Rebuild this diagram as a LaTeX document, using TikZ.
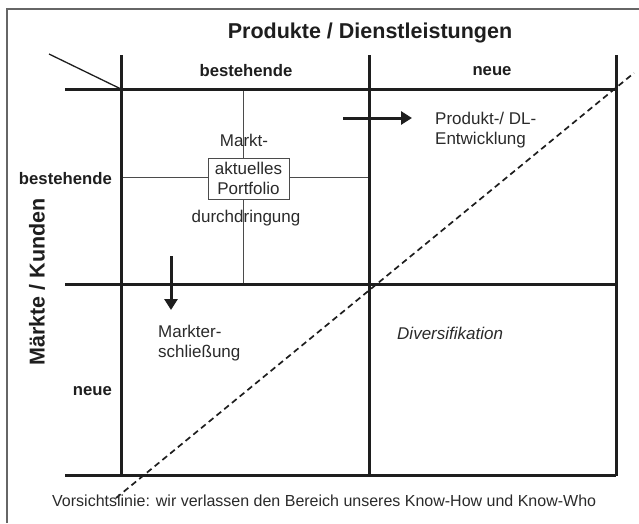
\documentclass[tikz,border=0pt]{standalone}
\usepackage{fontspec}
\setmainfont{Liberation Sans}
\usetikzlibrary{arrows.meta}
\definecolor{ink}{HTML}{1E1E1E}
\definecolor{txt}{HTML}{2A2A2A}
\begin{document}
\begin{tikzpicture}[x=1pt,y=-1pt,
  heavy/.style={line width=3pt, draw=ink},
  fine/.style={line width=1pt, draw=ink!80},
  body/.style={inner sep=0pt, text=txt, font=\fontsize{17}{20}\selectfont},
  head/.style={inner sep=0pt, text=ink, font=\fontsize{16.7}{20}\selectfont\bfseries},
  big/.style={inner sep=0pt, text=ink, font=\fontsize{21.5}{25}\selectfont\bfseries},
  fat arrow/.style={line width=3pt, draw=ink, -{Triangle[length=11pt,width=13pt]}}]
\useasboundingbox (0,0) rectangle (639,523);
% outer frame (cut at right and bottom)
\draw[line width=1.5pt, draw=black!60] (7,523) -- (7,9) -- (639,9);
% thin cross inside the top-left cell
\draw[fine] (243,89) -- (243,284);
\draw[fine] (121,177) -- (369,177);
% heavy grid
\draw[heavy] (65,89) -- (616,89);
\draw[heavy] (65,284) -- (616,284);
\draw[heavy] (65,475) -- (616,475);
\draw[heavy] (121,55) -- (121,476);
\draw[heavy] (369,55) -- (369,476);
\draw[heavy] (616,55) -- (616,476);
% corner diagonal
\draw[line width=1.3pt, draw=ink] (49,54) -- (121,89);
% caution line
\draw[line width=1.7pt, draw=ink, dash pattern=on 6pt off 4pt] (116,498) -- (634,73);
% headings
\node[big] (title) at (370,33) {Produkte / Dienstleistungen};
\node[head] (colA) at (246,71) {bestehende};
\node[head] (colB) at (492,71) {neue};
\node[head, anchor=east] (rowA) at (112,179) {bestehende};
\node[head, anchor=east] (rowB) at (112,391) {neue};
\node[big, rotate=90] (axisY) at (37,282) {Märkte / Kunden};
% cell texts
\node[body] (markt) at (244,140) {Markt-};
\node[body, draw=ink!80, line width=1pt, fill=white, align=center,
      minimum width=81pt, minimum height=41pt] (box) at (248.5,178.5) {aktuelles\\Portfolio};
\node[body] (durch) at (246,218) {durchdringung};
\node[body, align=left, anchor=west] (prod) at (435,130) {Produkt-/ DL-\\Entwicklung};
\node[body, align=left, anchor=west] (erschl) at (158,343) {Markter-\\schließung};
\node[body, anchor=west, font=\fontsize{17}{20}\selectfont\itshape] (divers) at (397,333) {Diversifikation};
\node[inner sep=0pt, text=txt, font=\fontsize{16}{19}\selectfont, anchor=west] (note) at (52,501)
  {Vorsichtslinie: wir verlassen den Bereich unseres Know-How und Know-Who};
% arrows
\coordinate (dnA) at (171,256);
\coordinate (dnB) at (171,310);
\coordinate (rtA) at (343,118);
\coordinate (rtB) at (412,118);
\draw[fat arrow] (dnA) -- (dnB);
\draw[fat arrow] (rtA) -- (rtB);
\end{tikzpicture}
\end{document}
